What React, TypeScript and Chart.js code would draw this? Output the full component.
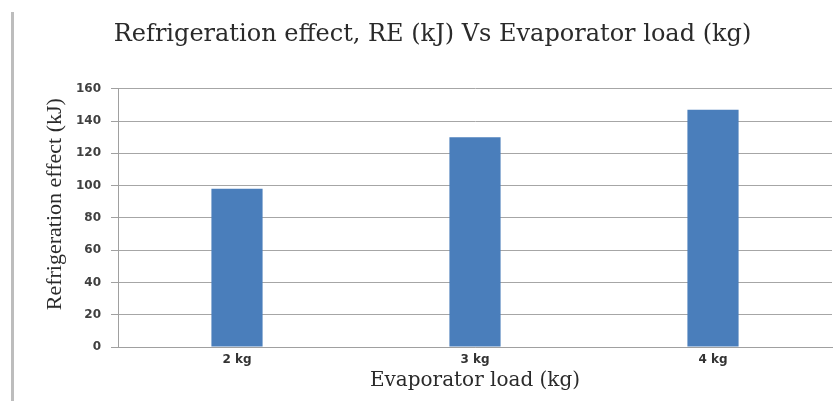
import React, { useEffect, useRef } from "react";
import { Chart, registerables } from "chart.js";

Chart.register(...registerables);

const categories = ["2 kg", "3 kg", "4 kg"];
const refrigerationEffect = [98, 130, 147];
const yTicks = [0, 20, 40, 60, 80, 100, 120, 140, 160];
const chartTitle = "Refrigeration effect, RE (kJ) Vs Evaporator load (kg)";
const xTitle = "Evaporator load (kg)";
const yTitle = "Refrigeration effect (kJ)";

export default function App() {
  const ref = useRef<HTMLCanvasElement | null>(null);

  useEffect(() => {
    if (!ref.current) return;
    const chart = new Chart(ref.current, {
      type: "bar",
      data: {
        labels: categories,
        datasets: [
          {
            data: refrigerationEffect,
            backgroundColor: "#4A7EBB",
            borderWidth: 0,
            barPercentage: 1,
            categoryPercentage: 0.215,
          },
        ],
      },
      options: {
        animation: false,
        responsive: false,
        maintainAspectRatio: false,
        layout: { padding: { left: 33, right: 2, top: 0, bottom: 0 } },
        plugins: {
          legend: { display: false },
          tooltip: { enabled: false },
          title: {
            display: true,
            text: chartTitle,
            color: "#2a2a2a",
            font: { family: "'DejaVu Serif'", size: 24, weight: "normal", lineHeight: 1.2 },
            padding: { top: 20, bottom: 40 },
          },
        },
        scales: {
          x: {
            grid: { display: true, drawOnChartArea: false, drawTicks: false, color: "#a6a6a6" },
            border: { display: true, color: "#a0a0a0", width: 1 },
            ticks: {
              color: "#333333",
              font: { family: "'DejaVu Sans'", size: 12, weight: "bold" },
              padding: 6,
            },
            title: {
              display: true,
              text: xTitle,
              color: "#2a2a2a",
              font: { family: "'DejaVu Serif'", size: 20, weight: "normal", lineHeight: 1.2 },
              padding: { top: 0, bottom: 8 },
            },
            afterFit: (scale: any) => {
              scale.height = 54;
            },
          },
          y: {
            min: 0,
            max: 160,
            afterBuildTicks: (scale: any) => {
              scale.ticks = yTicks.map((v) => ({ value: v }));
            },
            grid: { color: "#a6a6a6", tickLength: 7, tickColor: "#a0a0a0" },
            border: { display: true, color: "#a0a0a0", width: 1 },
            ticks: {
              color: "#404040",
              font: { family: "'DejaVu Sans'", size: 12, weight: "bold" },
              padding: 10,
            },
            title: {
              display: true,
              text: "\u0020\u0020\u0020\u0020\u0020" + yTitle,
              color: "#2a2a2a",
              font: { family: "'Liberation Serif'", size: 22, weight: "normal", lineHeight: 1.2 },
              padding: { top: 9, bottom: 0 },
            },
            afterFit: (scale: any) => {
              scale.width = 85;
            },
          },
        },
      },
    });
    return () => chart.destroy();
  }, []);

  return (
    <div style={{ position: "absolute", left: 0, top: 0, width: 834, height: 401, background: "#ffffff" }}>
      <div
        style={{
          position: "absolute",
          left: 11,
          top: 12,
          width: 3,
          height: 389,
          background: "#bdbdbd",
        }}
      />
      <canvas ref={ref} width={834} height={401} style={{ display: "block", width: 834, height: 401 }} />
    </div>
  );
}
